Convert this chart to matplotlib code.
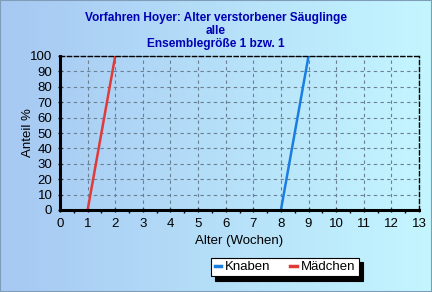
import numpy as np
import matplotlib
matplotlib.use("Agg")
import matplotlib.pyplot as plt
from matplotlib.patches import Rectangle
from matplotlib.ticker import MultipleLocator

# data
knaben_x = [8, 9]
knaben_y = [0, 100]
maedchen_x = [1, 2]
maedchen_y = [0, 100]

title = "Vorfahren Hoyer: Alter verstorbener Säuglinge\nalle\nEnsemblegröße 1 bzw. 1"

plt.rcParams['font.family'] = ['Liberation Sans', 'DejaVu Sans']

fig = plt.figure(figsize=(4.32, 2.92), dpi=100)

# background gradient
bg = fig.add_axes([0, 0, 1, 1], zorder=-10)
grad = np.linspace(0, 1, 256).reshape(1, -1)
cmap = matplotlib.colors.LinearSegmentedColormap.from_list("bg", ["#a6c8f2", "#c4f6ff"])
bg.imshow(grad, aspect='auto', cmap=cmap, extent=[0, 1, 0, 1])
bg.set_xlim(0, 1); bg.set_ylim(0, 1)
bg.axis('off')
bg.add_patch(Rectangle((0, 0), 1, 1, fill=False, edgecolor='#7f9db9', lw=1.5, transform=bg.transAxes))

ax = fig.add_axes([60/432, 1 - 210/292, (419-60)/432, (210-56)/292])
ax.patch.set_alpha(0)

ax.plot(knaben_x, knaben_y, color='#1a7ee0', lw=1.8, label='Knaben')
ax.plot(maedchen_x, maedchen_y, color='#e03a3a', lw=1.8, label='Mädchen')

ax.set_xlim(0, 13)
ax.set_ylim(0, 100)
ax.xaxis.set_major_locator(MultipleLocator(1))
ax.xaxis.set_minor_locator(MultipleLocator(0.5))
ax.yaxis.set_major_locator(MultipleLocator(10))
ax.grid(True, which='major', color='#6a7f90', ls=(0, (3, 3)), lw=0.8)

for s in ['left', 'bottom']:
    ax.spines[s].set_linewidth(2.2)
    ax.spines[s].set_color('black')
for s in ['top', 'right']:
    ax.spines[s].set_linewidth(1.0)
    ax.spines[s].set_linestyle((0, (3, 2)))
    ax.spines[s].set_color('black')

ax.tick_params(axis='both', which='major', labelsize=9.5, length=3, width=1, direction='inout', pad=4)
ax.tick_params(axis='x', which='minor', length=2, width=1, direction='out')

ax.set_xlabel("Alter (Wochen)", fontsize=9.5)
ax.set_ylabel("Anteil %", fontsize=9.5)
ax.xaxis.set_label_coords(0.5, (210 - 241) / 154, transform=ax.transAxes)
ax.yaxis.set_label_coords((28 - 60) / 359, 0.5, transform=ax.transAxes)
ax.xaxis.label.set_va('center')
ax.yaxis.label.set_va('center')

fig.text(0.5, 1 - 31/292, title, ha='center', va='center', fontsize=8.6, fontweight='bold',
         color='#0000b4', linespacing=1.12)

leg = ax.legend(loc='center', bbox_to_anchor=(285/432, 1 - 267/292), bbox_transform=fig.transFigure,
                ncol=2, fontsize=9.5, frameon=True, fancybox=False,
                shadow={'color': 'black', 'alpha': 1, 'ox': 3, 'oy': -3},
                handlelength=0.5, handletextpad=0.3, columnspacing=1.5, borderpad=0.25, borderaxespad=0)
leg.get_frame().set_edgecolor('black')
leg.get_frame().set_linewidth(0.8)
for line in leg.get_lines():
    line.set_linewidth(2.5)

fig.savefig("out.png", dpi=100)
